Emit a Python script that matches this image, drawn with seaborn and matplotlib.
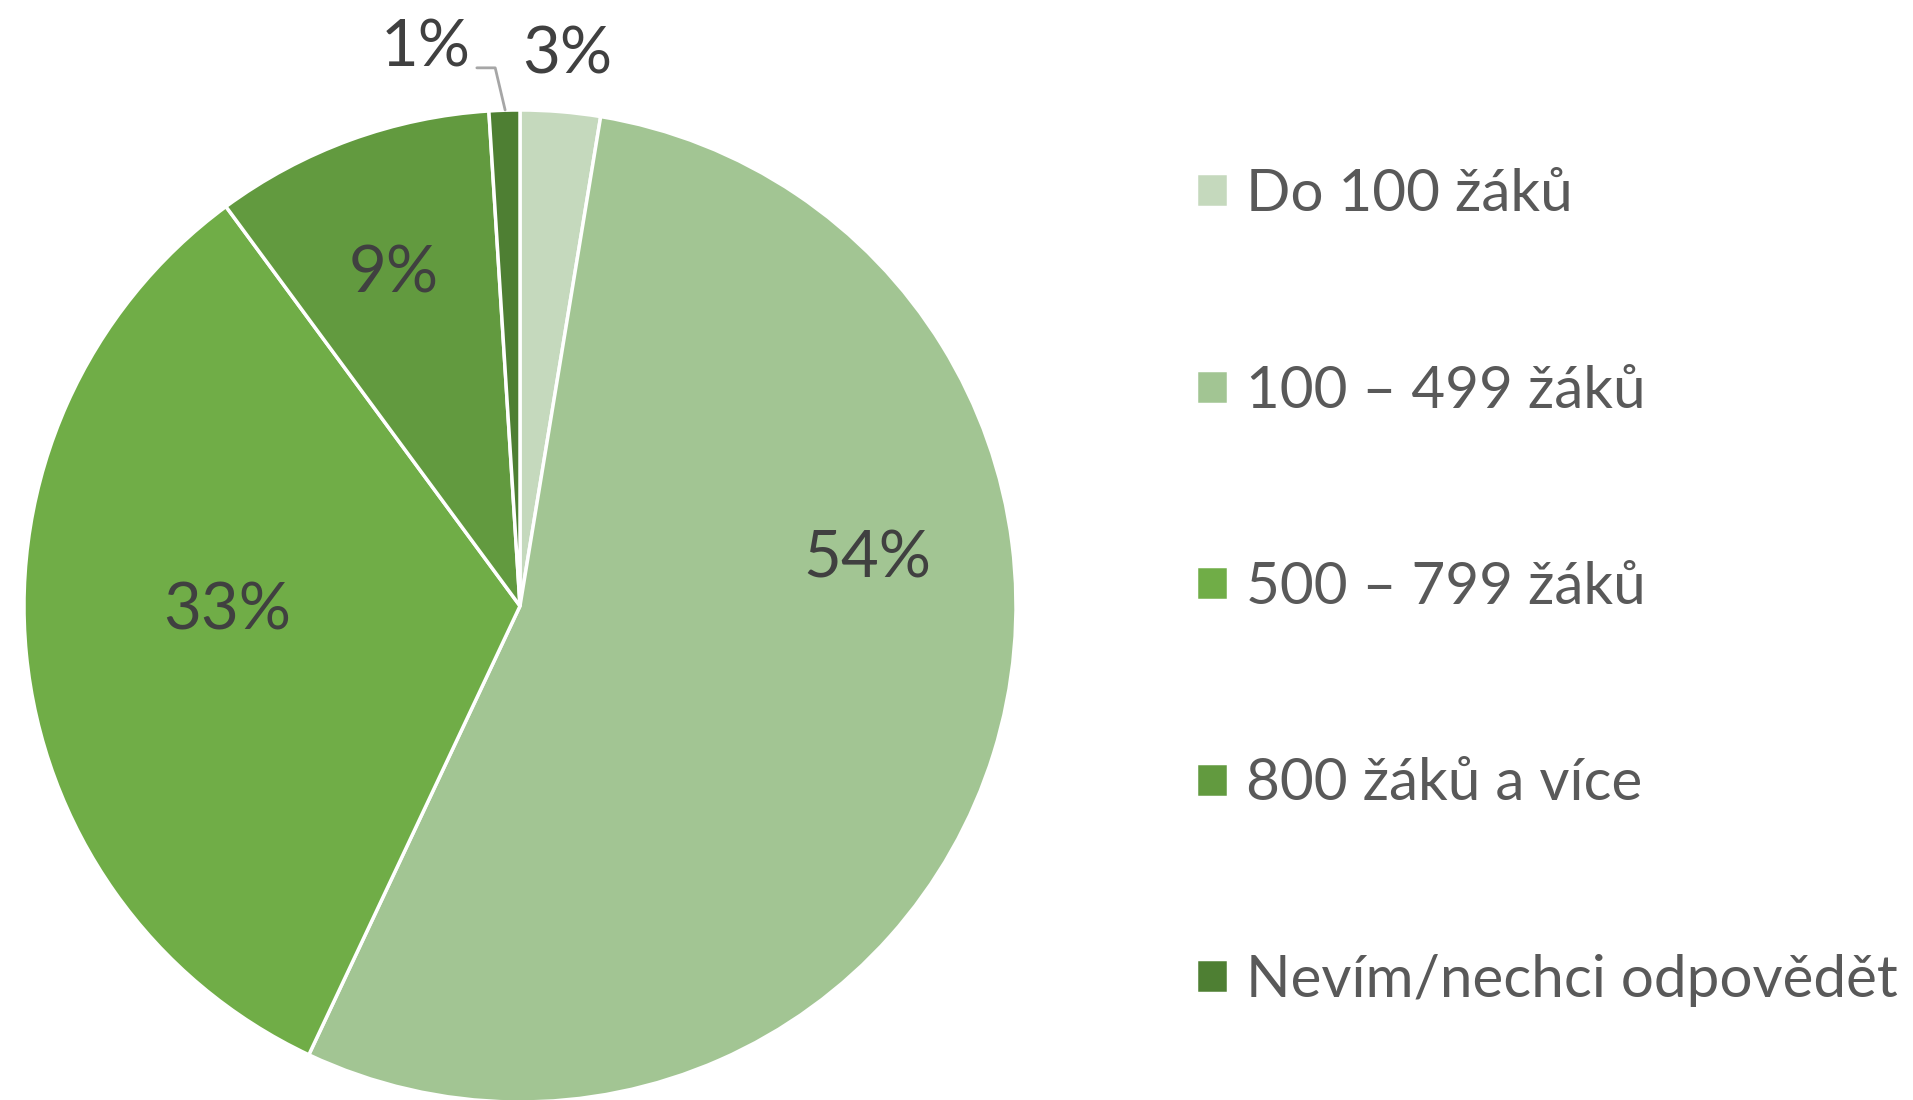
import matplotlib
matplotlib.use("Agg")
import matplotlib.pyplot as plt
import seaborn as sns

# data (slice sizes estimated, labels are rounded)
categories = ["Do 100 žáků", "100 – 499 žáků", "500 – 799 žáků",
              "800 žáků a více", "Nevím/nechci odpovědět"]
shares = [2.6, 54.4, 32.9, 9.1, 1.0]
colors = ["#C5D9BD", "#A2C593", "#70AD47", "#629A3F", "#4E7F33"]

sns.set_theme(style="white")
plt.rcParams["font.family"] = ["Lato", "DejaVu Sans"]

fig = plt.figure(figsize=(19.13, 11), dpi=100)
W, H = 1913, 1100
cx, cy, r = 520, 606, 496
ax = fig.add_axes([(cx - r) / W, (H - cy - r) / H, 2 * r / W, 2 * r / H])

wedges, _ = ax.pie(shares, colors=sns.color_palette(colors), startangle=90,
                   counterclock=False, radius=1,
                   wedgeprops=dict(edgecolor="white", linewidth=2.5))
ax.set_xlim(-1, 1)
ax.set_ylim(-1, 1)
ax.set_aspect("equal")
ax.axis("off")

# label positions (data units, relative to pie centre)
label_pos = [(0.095, 1.11), (0.70, 0.095), (-0.59, -0.01), (-0.255, 0.67), (-0.19, 1.125)]
for val, (lx, ly) in zip(shares, label_pos):
    ax.text(lx, ly, f"{round(val)}%", ha="center", va="center", fontsize=47,
            color="#404040", clip_on=False)

# leader line for the 1% slice
ax.plot([-0.087, -0.050, -0.030], [1.085, 1.085, 1.0], color="#A6A6A6",
        linewidth=2, clip_on=False)

leg = fig.legend(wedges, categories, loc="upper left",
                 bbox_to_anchor=(1196 / W, 1 - 168 / H), frameon=False,
                 fontsize=42, labelspacing=2.46, handlelength=0.55,
                 handleheight=0.52, handletextpad=0.3, borderpad=0,
                 borderaxespad=0)
for t in leg.get_texts():
    t.set_color("#595959")

fig.savefig("out.png", dpi=100)
